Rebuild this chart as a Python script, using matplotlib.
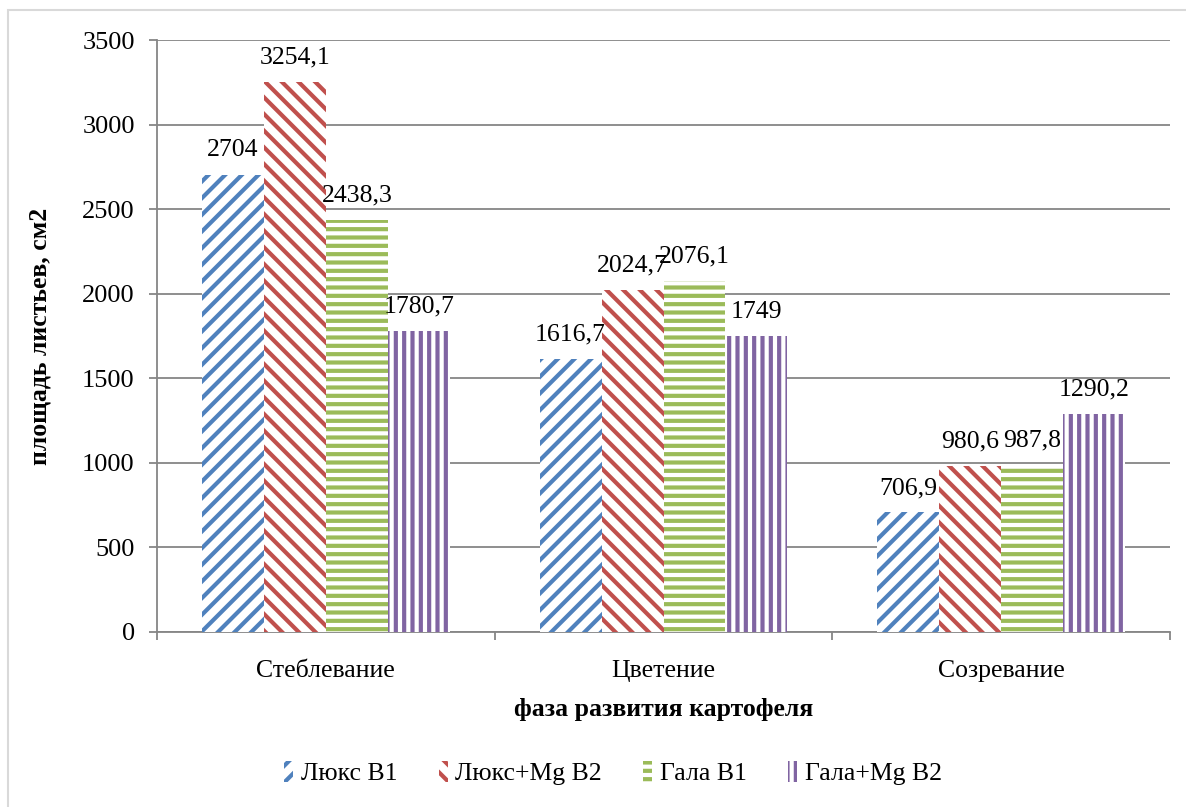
import matplotlib
matplotlib.use("Agg")
import matplotlib.pyplot as plt
import numpy as np
from matplotlib.patches import Rectangle

plt.rcParams['font.family'] = ['Liberation Serif', 'DejaVu Serif']
plt.rcParams['hatch.linewidth'] = 3.0

categories = ["Стеблевание", "Цветение", "Созревание"]
series_names = ["Люкс B1", "Люкс+Mg B2", "Гала B1", "Гала+Mg B2"]
lux_b1 = [2704, 1616.7, 706.9]
lux_mg_b2 = [3254.1, 2024.7, 980.6]
gala_b1 = [2438.3, 2076.1, 987.8]
gala_mg_b2 = [1780.7, 1749, 1290.2]
series_values = [lux_b1, lux_mg_b2, gala_b1, gala_mg_b2]
series_colors = ["#4F81BD", "#C0504D", "#9BBB59", "#8064A2"]
series_hatches = ["//", "\\\\", "--", "||"]
yticks = [0, 500, 1000, 1500, 2000, 2500, 3000, 3500]

def fmt(v):
    s = f"{v:.1f}".rstrip("0").rstrip(".")
    return s.replace(".", ",")

fig = plt.figure(figsize=(11.86, 8.07), dpi=100)
ax = fig.add_axes([157 / 1186, 175 / 807, 1013 / 1186, 592 / 807])

grid_color = "#868686"
x = np.arange(len(categories))
bar_w = 0.1836
handles = []
for i, (name, vals, col, h) in enumerate(zip(series_names, series_values, series_colors, series_hatches)):
    pos = x + (i - 1.5) * bar_w
    bars = ax.bar(pos, vals, width=bar_w, facecolor="white", edgecolor=col,
                  linewidth=0, hatch=h, label=name, zorder=3)
    handles.append(bars)
    for px, v in zip(pos, vals):
        ax.annotate(fmt(v), (px, v), xytext=(0, 17.5), textcoords="offset points",
                    ha="center", va="center", fontsize=18.5, zorder=5)

ax.set_xlim(-0.5, 2.5)
ax.set_ylim(0, 3500)
ax.set_yticks(yticks)
ax.set_yticklabels([str(t) for t in yticks], fontsize=19)
ax.yaxis.grid(True, color=grid_color, linewidth=1.3, zorder=0)
ax.set_axisbelow(True)

ax.set_xticks(x)
ax.set_xticklabels(categories, fontsize=18.5)
ax.set_xticks([-0.5, 0.5, 1.5, 2.5], minor=True)
ax.tick_params(axis="x", which="major", length=0, pad=20)
ax.tick_params(axis="x", which="minor", length=6, width=1.3, color=grid_color)
ax.tick_params(axis="y", length=6, width=1.3, color=grid_color, pad=10)

for side in ["top", "right"]:
    ax.spines[side].set_visible(False)
for side in ["left", "bottom"]:
    ax.spines[side].set_color(grid_color)
    ax.spines[side].set_linewidth(1.3)

ax.set_xlabel("фаза развития картофеля", fontsize=18.5, fontweight="bold", labelpad=12)
ax.set_ylabel("площадь листьев, см2", fontsize=18.5, fontweight="bold", labelpad=22)

fig.legend(handles=handles, labels=series_names, loc="center", bbox_to_anchor=(613 / 1186, 1 - 773 / 807),
           ncol=4, frameon=False, fontsize=18.5, handlelength=0.35, handleheight=0.9,
           handletextpad=0.3, columnspacing=1.6)

fig.patches.append(Rectangle((8 / 1186, -0.02), 1.05, 1 - 10 / 807 + 0.02, transform=fig.transFigure,
                             fill=False, edgecolor="#D9D9D9", linewidth=1.5, zorder=0))

fig.savefig("out.png", dpi=100)
